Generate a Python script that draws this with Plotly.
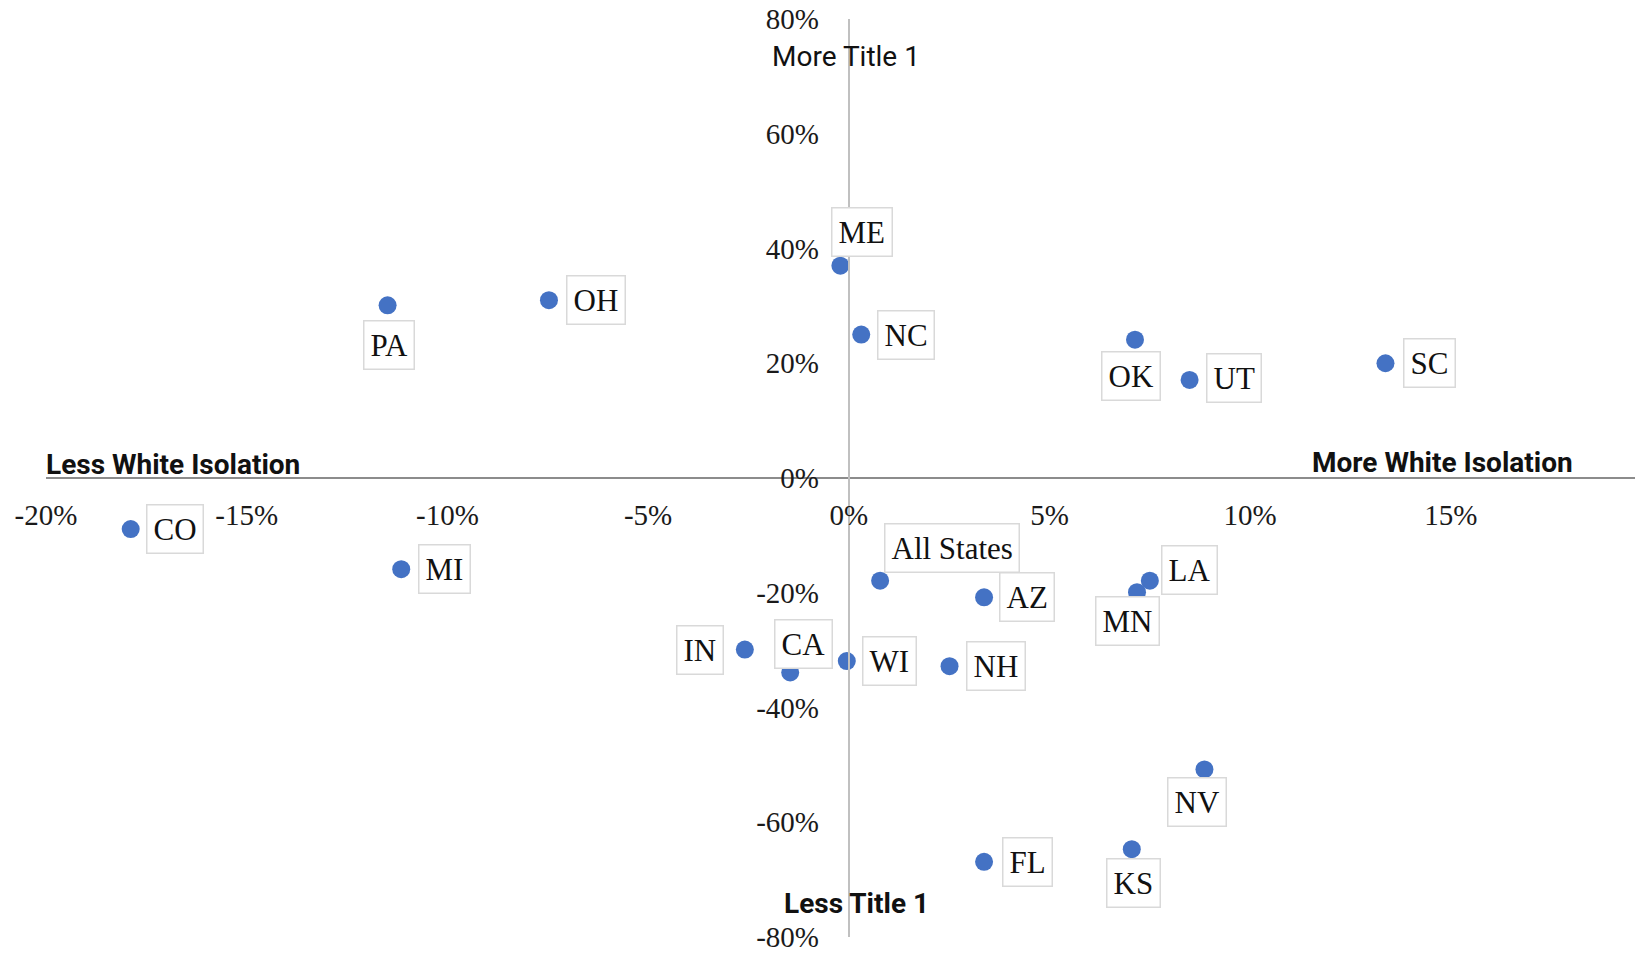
import plotly.graph_objects as go

# Change in white isolation (x) vs change in Title 1 (y), by state
states = ["ME", "PA", "OH", "NC", "OK", "UT", "SC", "CO", "MI", "All States",
          "AZ", "LA", "MN", "IN", "CA", "WI", "NH", "NV", "FL", "KS"]
white_isolation_change = [-0.0021, -0.1149, -0.0747, 0.0031, 0.0713, 0.0849, 0.1337,
                          -0.1789, -0.1115, 0.0078, 0.0337, 0.0750, 0.0718, -0.0259,
                          -0.0146, -0.0005, 0.0251, 0.0886, 0.0337, 0.0705]
title1_change = [0.370, 0.301, 0.310, 0.250, 0.241, 0.171, 0.200,
                 -0.089, -0.159, -0.179, -0.208, -0.179, -0.199, -0.299,
                 -0.339, -0.319, -0.328, -0.508, -0.669, -0.647]

x_tick_values = [-0.20, -0.15, -0.10, -0.05, 0.0, 0.05, 0.10, 0.15, 0.20]
x_tick_labels = ["-20%", "-15%", "-10%", "-5%", "0%", "5%", "10%", "15%", "20%"]
y_tick_values = [-0.8, -0.6, -0.4, -0.2, 0.0, 0.2, 0.4, 0.6, 0.8]
y_tick_labels = ["-80%", "-60%", "-40%", "-20%", "0%", "20%", "40%", "60%", "80%"]

# Label box placement relative to each marker, in pixels (right, down)
LABEL_OFFSET = {
    "ME": (22, -34), "OH": (47, 0), "PA": (1, 40), "NC": (45, 0), "OK": (-4, 36),
    "UT": (44, -2), "SC": (44, 0), "CO": (44, 0), "MI": (43, 0),
    "All States": (72, -33), "AZ": (43, 0), "LA": (40, -11), "MN": (-10, 29),
    "IN": (-45, 0), "CA": (13, -29), "WI": (43, 0), "NH": (46, 0), "NV": (-7, 33),
    "FL": (43, 0), "KS": (2, 34),
}

W, H = 1644, 954
M_L, M_R, M_T, M_B = 46, 9, 19, 17
X_MIN = -0.20
PX_PER_UNIT_X = 200.7 / 0.05
X_MAX = X_MIN + (W - M_L - M_R) / PX_PER_UNIT_X
Y_MIN, Y_MAX = -0.8, 0.8

SERIF = "Liberation Serif"
SANS = "Roboto"

fig = go.Figure()
fig.add_trace(go.Scatter(
    x=white_isolation_change, y=title1_change, mode="markers",
    marker=dict(color="#4472C4", size=18, line=dict(width=0)),
    text=states, hoverinfo="text", showlegend=False,
))

# Axes cross at the origin
x_origin_paper = (0 - X_MIN) / (X_MAX - X_MIN)
y_origin_paper = (0 - Y_MIN) / (Y_MAX - Y_MIN)

fig.update_layout(
    width=W, height=H,
    margin=dict(l=M_L, r=M_R, t=M_T, b=M_B, autoexpand=False),
    paper_bgcolor="white", plot_bgcolor="white",
    showlegend=False,
    xaxis=dict(
        range=[X_MIN, X_MAX], anchor="free", position=y_origin_paper,
        showgrid=False, zeroline=False,
        showline=True, linecolor="#8c8c8c", linewidth=2,
        tickmode="array", tickvals=x_tick_values, ticktext=x_tick_labels,
        ticks="", ticklabelstandoff=11, automargin=False,
        ticklabeloverflow="allow",
        tickfont=dict(family=SERIF, size=29, color="#1a1a1a"),
    ),
    yaxis=dict(
        range=[Y_MIN, Y_MAX], anchor="free", position=x_origin_paper,
        showgrid=False, zeroline=False,
        showline=True, linecolor="#c0c0c0", linewidth=2,
        tickmode="array", tickvals=y_tick_values, ticktext=y_tick_labels,
        ticks="", ticklabelstandoff=23, automargin=False,
        ticklabeloverflow="allow",
        tickfont=dict(family=SERIF, size=29, color="#1a1a1a"),
    ),
)

# Boxed state labels
for name, xv, yv in zip(states, white_isolation_change, title1_change):
    dx, dy = LABEL_OFFSET[name]
    fig.add_annotation(
        x=xv, y=yv, xref="x", yref="y", text=name, showarrow=False,
        xanchor="center", yanchor="middle", xshift=dx, yshift=-dy,
        font=dict(family=SERIF, size=31, color="#111111"),
        bgcolor="white", bordercolor="#d9d9d9", borderwidth=1.5, borderpad=6,
    )

# Quadrant titles, placed in pixel terms within the plot area
PLOT_W = W - M_L - M_R
PLOT_H = H - M_T - M_B
quadrant_titles = [
    ("More Title 1", 846, 56, False),
    ("Less Title 1", 856, 903, True),
    ("More White Isolation", 1442, 462, True),
    ("Less White Isolation", 173, 464, True),
]
for text, cx, cy, bold in quadrant_titles:
    fig.add_annotation(
        x=(cx - M_L) / PLOT_W, y=(H - M_B - cy) / PLOT_H,
        xref="paper", yref="paper", showarrow=False,
        text=f"<b>{text}</b>" if bold else text,
        xanchor="center", yanchor="middle",
        font=dict(family=SANS, size=28, color="#111111"),
    )

fig.write_html("out.html")
